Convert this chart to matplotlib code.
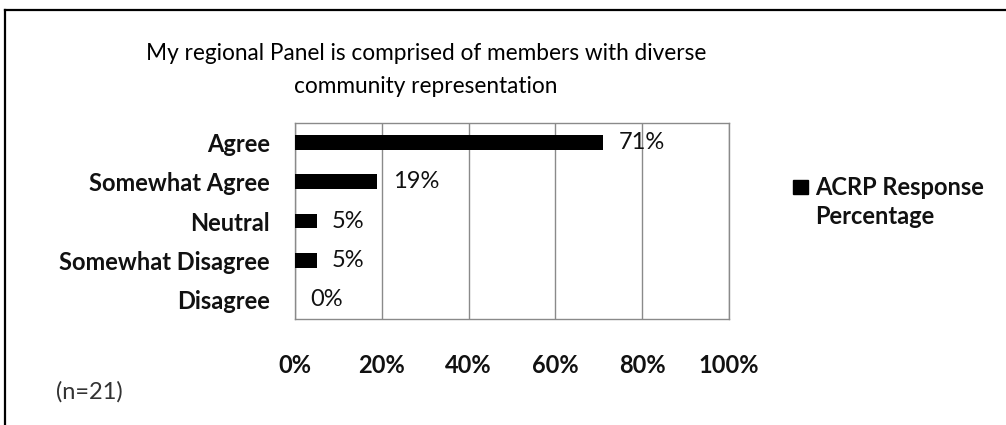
import matplotlib
matplotlib.use("Agg")
import matplotlib.pyplot as plt
from matplotlib.lines import Line2D
from matplotlib.patches import Rectangle

categories = ["Agree", "Somewhat Agree", "Neutral", "Somewhat Disagree", "Disagree"]
values = [71, 19, 5, 5, 0]
value_labels = ["71%", "19%", "5%", "5%", "0%"]
xticks = [0, 20, 40, 60, 80, 100]
xtick_labels = ["0%", "20%", "40%", "60%", "80%", "100%"]
series_name = "ACRP Response\nPercentage"
title = "My regional Panel is comprised of members with diverse\ncommunity representation"
note = "(n=21)"

FONT = ["Lato", "DejaVu Sans"]
plt.rcParams['font.family'] = FONT

W, H = 1006, 425
fig = plt.figure(figsize=(W / 100, H / 100), dpi=100)
fig.patch.set_facecolor("white")

def fx(px):
    return px / W

def fy(py):
    return 1 - py / H

left, right, top, bottom = 295, 729, 123, 319
ax = fig.add_axes([fx(left), fy(bottom), fx(right - left), (bottom - top) / H])

ypos = list(range(len(categories)))
ax.barh(ypos, values, height=0.38, color="black", zorder=3, label=series_name)
ax.set_xlim(0, 100)
ax.set_ylim(4.5, -0.5)
ax.set_xticks(xticks)
ax.set_xticklabels(xtick_labels, fontsize=17, fontweight="bold", color="#111111")
ax.set_yticks(ypos)
ax.set_yticklabels(categories, fontsize=17, fontweight="bold", color="#111111")
ax.tick_params(axis="x", length=0, pad=25)
ax.tick_params(axis="y", length=0, pad=18)
ax.grid(axis="x", color="#8a8a8a", linewidth=1.0, zorder=1)
for s in ax.spines.values():
    s.set_color("#8a8a8a")
    s.set_linewidth(1.0)

for y, v, lab in zip(ypos, values, value_labels):
    ax.annotate(lab, xy=(v, y), xytext=(11, 0), textcoords="offset points",
                ha="left", va="center", fontsize=17, color="#111111", zorder=4)

fig.text(fx(426), fy(70), title, ha="center", va="center", fontsize=16.3,
         linespacing=1.7, color="black")

fig.text(fx(56), fy(392), note, ha="left", va="center", fontsize=17, color="#333333")

# legend (handle aligned with first text line, as in the original)
fig.add_artist(Rectangle((fx(793), fy(194)), fx(15), 14 / H, color="black",
                         transform=fig.transFigure))
fig.text(fx(815), fy(202), series_name, ha="left", va="center", fontsize=17,
         fontweight="bold", color="#111111", linespacing=1.3)

fig.add_artist(Line2D([fx(5), 1], [fy(10), fy(10)], color="black", linewidth=1.6,
                      transform=fig.transFigure))
fig.add_artist(Line2D([fx(5), fx(5)], [fy(10), 0], color="black", linewidth=1.6,
                      transform=fig.transFigure))

fig.savefig("out.png", dpi=100, facecolor="white")
